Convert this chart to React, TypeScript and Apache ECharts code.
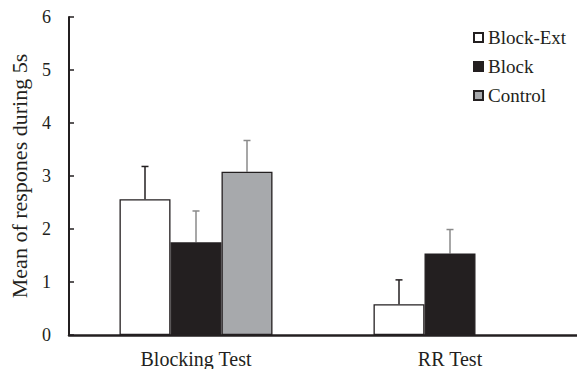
import React, { useEffect, useRef } from "react";
import * as echarts from "echarts";

const categories = ["Blocking Test", "RR Test"];
const seriesNames = ["Block-Ext", "Block", "Control"];
const blockExtMean = [2.56, 0.58];
const blockMean = [1.75, 1.54];
const controlMean: (number | null)[] = [3.08, null];
const blockExtUpper = [3.18, 1.04];
const blockUpper = [2.34, 1.99];
const controlUpper: (number | null)[] = [3.67, null];
const yTicks = [0, 1, 2, 3, 4, 5, 6];

const colors = ["#ffffff", "#231f20", "#a7a9ac"];
const errColors = ["#231f20", "#8a8a8a", "#8a8a8a"];
const FONT = "'Liberation Serif', 'Times New Roman', serif";

export default function App() {
  const ref = useRef<HTMLDivElement>(null);
  useEffect(() => {
    if (!ref.current) return;
    const chart = echarts.init(ref.current, undefined, { renderer: "svg" });
    const means = [blockExtMean, blockMean, controlMean];
    const uppers = [blockExtUpper, blockUpper, controlUpper];
    const barW = 51;
    const errData: any[] = [];
    means.forEach((m, si) => {
      m.forEach((v, ci) => {
        const u = uppers[si][ci];
        if (v != null && u != null) errData.push([ci, v, u, si]);
      });
    });
    chart.setOption({
      animation: false,
      backgroundColor: "#ffffff",
      grid: { left: 62, top: 17, width: 526, height: 319, containLabel: false },
      legend: {
        data: seriesNames,
        orient: "vertical",
        left: 468,
        top: 23,
        itemWidth: 9,
        itemHeight: 9,
        itemGap: 10,
        icon: "rect",
        textStyle: { fontFamily: FONT, fontSize: 19, color: "#231f20" },
      },
      xAxis: {
        type: "category",
        data: categories,
        axisLine: { lineStyle: { color: "#231f20", width: 2.5 } },
        axisTick: { show: false },
        axisLabel: { fontFamily: FONT, fontSize: 20, color: "#231f20", margin: 14 },
      },
      yAxis: {
        type: "value",
        min: 0,
        max: 6,
        interval: 1,
        name: "Mean of respones during 5s",
        nameLocation: "middle",
        nameGap: 39,
        nameTextStyle: { fontFamily: FONT, fontSize: 22, color: "#231f20" },
        axisLine: { show: true, lineStyle: { color: "#231f20", width: 2 } },
        axisTick: { show: true, inside: true, length: 5, lineStyle: { color: "#231f20", width: 1.5 } },
        splitLine: { show: false },
        axisLabel: {
          fontFamily: FONT,
          fontSize: 18,
          color: "#231f20",
          margin: 18,
          formatter: (v: number) => (yTicks.includes(v) ? String(v) : ""),
        },
      },
      series: [
        ...seriesNames.map((name, si) => ({
          name,
          type: "bar",
          data: means[si].map((v) => (v == null ? "-" : v)),
          barWidth: barW,
          barGap: "0%",
          itemStyle: { color: colors[si], borderColor: "#231f20", borderWidth: 1.3 },
        })),
        {
          type: "custom",
          name: "err",
          data: errData,
          z: 1,
          renderItem: (params: any, api: any) => {
            const ci = api.value(0);
            const m = api.value(1);
            const u = api.value(2);
            const si = api.value(3);
            const base = api.coord([ci, m]);
            const top = api.coord([ci, u]);
            const x = base[0] + (si - 1) * barW;
            const c = errColors[si];
            return {
              type: "group",
              children: [
                { type: "line", shape: { x1: x, y1: base[1], x2: x, y2: top[1] }, style: { stroke: c, lineWidth: 1.5 } },
                { type: "line", shape: { x1: x - 3.5, y1: top[1], x2: x + 3.5, y2: top[1] }, style: { stroke: c, lineWidth: 1.5 } },
              ],
            };
          },
        },
      ],
    });
    return () => chart.dispose();
  }, []);
  return <div ref={ref} style={{ width: 577, height: 369, position: "absolute", left: 0, top: 0 }} />;
}
